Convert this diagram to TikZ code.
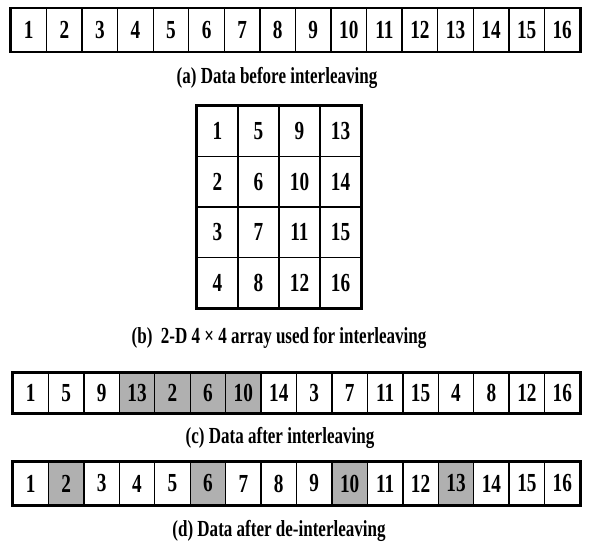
\documentclass[tikz,border=0pt]{standalone}
\usepackage{fontspec}
\setmainfont{Liberation Serif}[FakeStretch=0.74]

\begin{document}
\begin{tikzpicture}[
  x=1pt,
  y=-1pt,
  cell/.style={draw, line width=1.3pt, minimum width=35.5pt, minimum height=43pt,
    inner sep=0pt, font=\fontsize{26}{26}\selectfont\bfseries},
  shaded/.style={cell, fill=gray!62},
  gridcell/.style={cell, minimum width=41pt, minimum height=50.5pt},
  outer/.style={draw, line width=2.6pt},
  caption/.style={font=\fontsize{23}{23}\selectfont\bfseries}
]
  \useasboundingbox (0,0) rectangle (589,544);

  % (a) data before interleaving
  \foreach \v [count=\i] in {1,...,16}
    \node[cell] (a\i) at ({11+35.56*(\i-0.5)},30) {\v};
  \draw[outer] (a1.north west) rectangle (a16.south east);
  \node[caption] (capa) at (277,78) {(a) Data before interleaving};

  % (b) 4 x 4 array
  \foreach \r in {1,...,4}
    \foreach \c in {1,...,4} {
      \pgfmathtruncatemacro{\v}{\r+4*(\c-1)}
      \node[gridcell] (g\r\c) at ({197+41*(\c-0.5)},{106+50.5*(\r-0.5)}) {\v};
    }
  \draw[outer] (g11.north west) rectangle (g44.south east);
  \node[caption] (capb) at (279,338) {(b)\ \ 2-D 4 × 4 array used for interleaving};

  % (c) data after interleaving
  \foreach \v/\s [count=\i] in {1/cell,5/cell,9/cell,13/shaded,2/shaded,6/shaded,10/shaded,14/cell,
      3/cell,7/cell,11/cell,15/cell,4/cell,8/cell,12/cell,16/cell}
    \node[\s, minimum height=40pt] (c\i) at ({13+35.44*(\i-0.5)},393) {\v};
  \draw[outer] (c1.north west) rectangle (c16.south east);
  \node[caption] (capc) at (280,438) {(c) Data after interleaving};

  % (d) data after de-interleaving
  \foreach \v/\s [count=\i] in {1/cell,2/shaded,3/cell,4/cell,5/cell,6/shaded,7/cell,8/cell,
      9/cell,10/shaded,11/cell,12/cell,13/shaded,14/cell,15/cell,16/cell}
    \node[\s] (d\i) at ({13+35.44*(\i-0.5)},483.5) {\v};
  \draw[outer] (d1.north west) rectangle (d16.south east);
  \node[caption] (capd) at (279,531) {(d) Data after de-interleaving};
\end{tikzpicture}
\end{document}
